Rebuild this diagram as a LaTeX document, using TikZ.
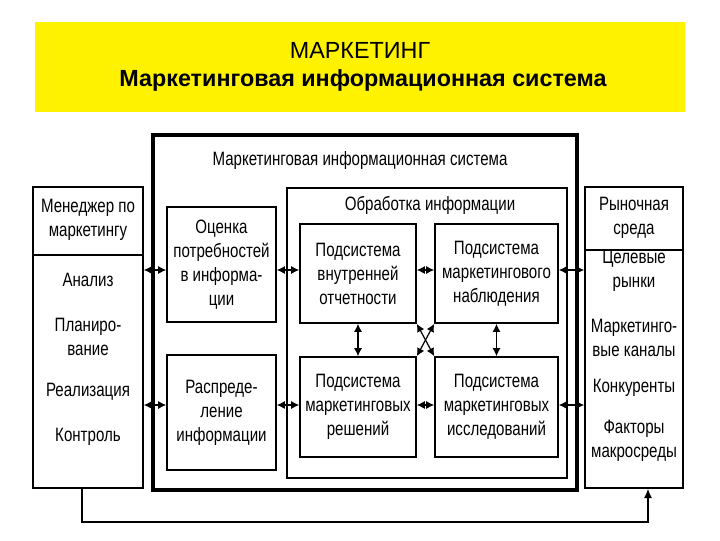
\documentclass[tikz,border=0pt]{standalone}
\usepackage{fontspec}
\setmainfont{Liberation Sans}
\newfontfamily\narrowf{Liberation Sans}[FakeStretch=0.78]
\usetikzlibrary{arrows.meta,fit}
\tikzset{
  box/.style={draw,line width=1.2pt,inner sep=0pt},
  thickbox/.style={draw,line width=2.4pt,inner sep=0pt},
  txt/.style={font=\narrowf\fontsize{14.5}{18}\selectfont,align=center,inner sep=0pt},
  dar/.style={{Latex[length=6pt,width=6pt]}-{Latex[length=6pt,width=6pt]},line width=0.9pt},
  sar/.style={-{Latex[length=7pt,width=6pt]},line width=0.9pt}
}
\begin{document}
\begin{tikzpicture}[x=0.75pt,y=-0.75pt]
\useasboundingbox (0,0) rectangle (720,540);
\fill[white] (0,0) rectangle (720,540);
\fill[yellow] (35,22) rectangle (685,112);
\node[font=\fontsize{17.5}{20}\selectfont] (t1) at (360,50) {МАРКЕТИНГ};
\node[font=\bfseries\fontsize{17.5}{20}\selectfont] (t2) at (363,80) {Маркетинговая информационная система};

\node[thickbox,fit={(153,135) (577,490)}] (mis) {};
\node[txt] (mist) at (360,160) {Маркетинговая информационная система};

% left
\node[box,fit={(33,187) (143,488)}] (L) {};
\draw[line width=1.2pt] (33,255) -- (143,255);
\node[txt] (l1) at (88,220) {Менеджер по\\маркетингу};
\node[txt] (l2) at (88,280) {Анализ};
\node[txt] (l3) at (88,337) {Планиро-\\вание};
\node[txt] (l4) at (88,392) {Реализация};
\node[txt] (l5) at (88,437) {Контроль};

% right
\node[box,fit={(585,187) (683,488)}] (R) {};
\draw[line width=1pt] (585,250) -- (683,250);
\node[txt] (r1) at (634,218) {Рыночная\\среда};
\node[txt] (r2) at (634,271) {Целевые\\рынки};
\node[txt] (r3) at (634,338) {Маркетинго-\\вые каналы};
\node[txt] (r4) at (634,388) {Конкуренты};
\node[txt] (r5) at (634,441) {Факторы\\макросреды};

\node[box,fit={(167,207) (276,322)}] (oc) {};
\node[txt] at (oc.center) {Оценка\\потребностей\\в информа-\\ции};
\node[box,fit={(167,355) (276,470)}] (rs) {};
\node[txt] at (rs.center) {Распреде-\\ление\\информации};

\node[box,fit={(287,188) (567,478)}] (ob) {};
\node[txt] (obt) at (430,205) {Обработка информации};

\node[box,fit={(300,224) (416,323)}] (tl) {};
\node[txt] at (tl.center) {Подсистема\\внутренней\\отчетности};
\node[box,fit={(435,224) (558,323)}] (tr) {};
\node[txt] at (tr.center) {Подсистема\\маркетингового\\наблюдения};
\node[box,fit={(300,357) (416,457)}] (bl) {};
\node[txt] at (bl.center) {Подсистема\\маркетинговых\\решений};
\node[box,fit={(435,357) (558,457)}] (br) {};
\node[txt] at (br.center) {Подсистема\\маркетинговых\\исследований};

% arrows
\draw[dar] (L.east |- 0,270) -- (oc.west |- 0,270);
\draw[dar] (L.east |- 0,405) -- (rs.west |- 0,405);
\draw[dar] (oc.east |- 0,270) -- (tl.west |- 0,270);
\draw[dar] (rs.east |- 0,405) -- (bl.west |- 0,405);
\draw[dar] (tl.east |- 0,270) -- (tr.west |- 0,270);
\draw[dar] (bl.east |- 0,405) -- (br.west |- 0,405);
\draw[dar] (tr.east |- 0,270) -- (R.west |- 0,270);
\draw[dar] (br.east |- 0,405) -- (R.west |- 0,405);
\draw[dar] (tl.south) -- (bl.north);
\draw[dar] (tr.south) -- (br.north);
\draw[dar] (tl.south east) -- (br.north west);
\draw[dar] (tr.south west) -- (bl.north east);

\coordinate (b1) at (82,522);
\coordinate (b2) at (648,522);
\draw[sar] (L.south -| 82,0) -- (b1) -- (b2) -- (R.south -| 648,0);
\end{tikzpicture}
\end{document}
